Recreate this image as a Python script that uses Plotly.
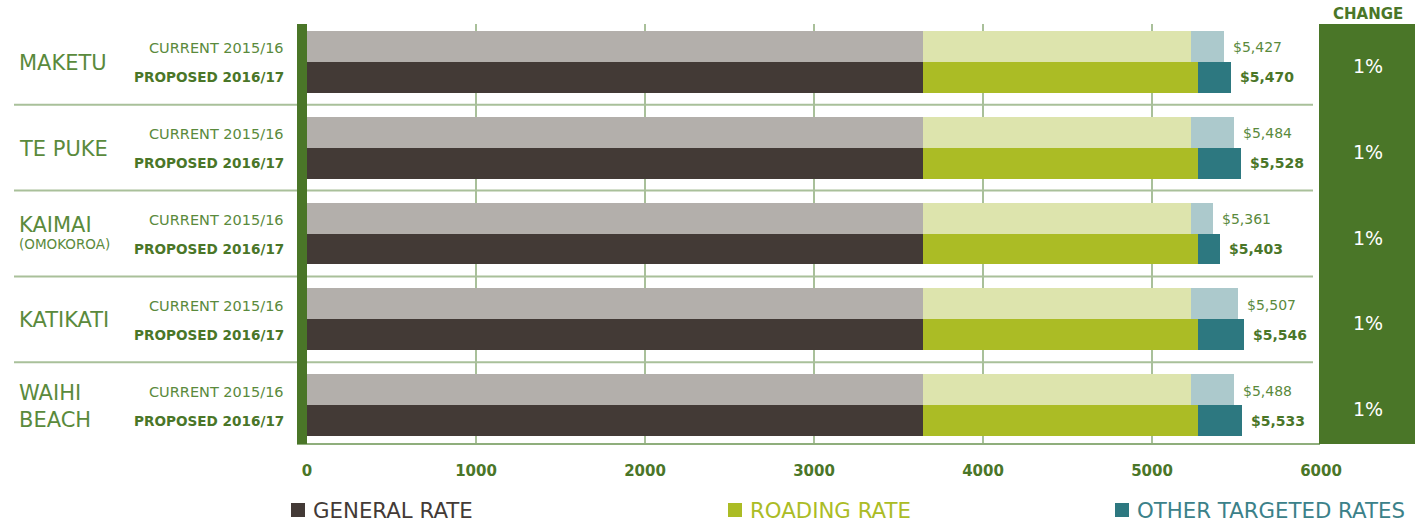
import plotly.graph_objects as go

towns = ["MAKETU", "TE PUKE", "KAIMAI", "KATIKATI", "WAIHI<br>BEACH"]
town_sub = ["", "", "(OMOKOROA)", "", ""]
period_current = "CURRENT 2015/16"
period_proposed = "PROPOSED 2016/17"

general_current = [3645, 3645, 3645, 3645, 3645]
general_proposed = [3645, 3645, 3645, 3645, 3645]
roading_current = [1586, 1586, 1586, 1586, 1586]
roading_proposed = [1627, 1627, 1625, 1627, 1629]
total_current = [5427, 5484, 5361, 5507, 5488]
total_proposed = [5470, 5528, 5403, 5546, 5533]
other_current = [t - g - r for t, g, r in zip(total_current, general_current, roading_current)]
other_proposed = [t - g - r for t, g, r in zip(total_proposed, general_proposed, roading_proposed)]
change = ["1%", "1%", "1%", "1%", "1%"]
x_ticks = [0, 1000, 2000, 3000, 4000, 5000, 6000]
legend_names = ["GENERAL RATE", "ROADING RATE", "OTHER TARGETED RATES"]

FONT = "DejaVu Sans"
DARK_GREEN = "#4a7628"
TEXT_GREEN = "#5a8a3c"
GRID = "#a9c09a"

col_cur = ["#b3afab", "#dde4ad", "#acc9cc"]
col_pro = ["#433a36", "#abbc25", "#2d7880"]
legend_text_col = ["#433a36", "#abbc25", "#3b8189"]

PITCH = 2.768
n = len(towns)
y_cur = [i * PITCH for i in range(n)]
y_pro = [i * PITCH + 1 for i in range(n)]

fig = go.Figure()
series_cur = [general_current, roading_current, other_current]
series_pro = [general_proposed, roading_proposed, other_proposed]
for k in range(3):
    fig.add_trace(go.Bar(x=series_cur[k], y=y_cur, orientation="h", width=1,
                         marker=dict(color=col_cur[k], line=dict(width=0)),
                         showlegend=False, hoverinfo="skip"))
    fig.add_trace(go.Bar(x=series_pro[k], y=y_pro, orientation="h", width=1,
                         marker=dict(color=col_pro[k], line=dict(width=0)),
                         showlegend=False, hoverinfo="skip"))

W, H = 1421, 523
L, R, T, B = 307, 100, 24, 79
pw = W - L - R
ph = H - T - B

def px_to_paper_x(px):
    return (px - L) / pw

def px_to_paper_y(py):
    return 1 - (py - T) / ph

shapes = []
annotations = []

# separators
for i in range(n - 1):
    ysep = i * PITCH + 0.5 + PITCH / 2
    shapes.append(dict(type="line", xref="paper", yref="y",
                       x0=px_to_paper_x(14), x1=px_to_paper_x(1313), y0=ysep, y1=ysep,
                       line=dict(color=GRID, width=2)))
# bottom line
shapes.append(dict(type="line", xref="paper", yref="paper",
                   x0=px_to_paper_x(297), x1=px_to_paper_x(1320), y0=0, y1=0,
                   line=dict(color="#8fae7c", width=2)))
# left thick bar
shapes.append(dict(type="rect", xref="paper", yref="paper",
                   x0=px_to_paper_x(297), x1=0, y0=0, y1=1,
                   fillcolor=DARK_GREEN, line=dict(width=0)))
# change column
shapes.append(dict(type="rect", xref="paper", yref="paper",
                   x0=px_to_paper_x(1319), x1=px_to_paper_x(1415), y0=0, y1=1,
                   fillcolor=DARK_GREEN, line=dict(width=0)))

annotations.append(dict(text="<b>CHANGE</b>", xref="paper", yref="paper",
                        x=px_to_paper_x(1368), y=px_to_paper_y(14), showarrow=False,
                        font=dict(family=FONT, size=15, color=DARK_GREEN),
                        xanchor="center", yanchor="middle"))

for i in range(n):
    yc = (y_cur[i] + y_pro[i]) / 2
    annotations.append(dict(text=towns[i], xref="paper", yref="y",
                            x=px_to_paper_x(17), y=yc, showarrow=False,
                            xanchor="left", yanchor="middle", align="left",
                            yshift=(9 if town_sub[i] else -1),
                            font=dict(family=FONT, size=21, color=TEXT_GREEN)))
    if town_sub[i]:
        annotations.append(dict(text=town_sub[i], xref="paper", yref="y",
                                x=px_to_paper_x(17), y=yc, showarrow=False,
                                xanchor="left", yanchor="middle", yshift=-10,
                                font=dict(family=FONT, size=13.5, color=TEXT_GREEN)))
    annotations.append(dict(text=period_current, xref="paper", yref="y",
                            x=px_to_paper_x(286), y=y_cur[i], showarrow=False,
                            xanchor="right", yanchor="middle", yshift=-2,
                            font=dict(family=FONT, size=14.5, color=TEXT_GREEN)))
    annotations.append(dict(text="<b>" + period_proposed + "</b>", xref="paper", yref="y",
                            x=px_to_paper_x(286), y=y_pro[i], showarrow=False,
                            xanchor="right", yanchor="middle",
                            font=dict(family=FONT, size=13.6, color=DARK_GREEN)))
    annotations.append(dict(text="${:,}".format(total_current[i]), xref="x", yref="y",
                            x=total_current[i], y=y_cur[i], showarrow=False,
                            xanchor="left", yanchor="middle", xshift=7, yshift=-1,
                            font=dict(family=FONT, size=14, color=TEXT_GREEN)))
    annotations.append(dict(text="<b>${:,}</b>".format(total_proposed[i]), xref="x", yref="y",
                            x=total_proposed[i], y=y_pro[i], showarrow=False,
                            xanchor="left", yanchor="middle", xshift=7,
                            font=dict(family=FONT, size=14, color=DARK_GREEN)))
    annotations.append(dict(text=change[i], xref="paper", yref="y",
                            x=px_to_paper_x(1368), y=yc, showarrow=False,
                            xanchor="center", yanchor="middle", yshift=-4,
                            font=dict(family=FONT, size=19, color="white")))

# legend
legend_sq_px = [291, 728, 1115]
for k in range(3):
    x0 = legend_sq_px[k]
    shapes.append(dict(type="rect", xref="paper", yref="paper",
                       x0=px_to_paper_x(x0), x1=px_to_paper_x(x0 + 14),
                       y0=px_to_paper_y(517), y1=px_to_paper_y(503),
                       fillcolor=col_pro[k], line=dict(width=0)))
    annotations.append(dict(text=legend_names[k], xref="paper", yref="paper",
                            x=px_to_paper_x(x0 + 20), y=px_to_paper_y(510), showarrow=False,
                            xanchor="left", yanchor="middle",
                            font=dict(family=FONT, size=21.3, color=legend_text_col[k])))

fig.update_layout(
    width=W, height=H,
    margin=dict(l=L, r=R, t=T, b=B, pad=0),
    plot_bgcolor="white", paper_bgcolor="white",
    barmode="stack", bargap=0,
    showlegend=False,
    shapes=shapes, annotations=annotations,
    xaxis=dict(range=[0, 6000], tickvals=x_ticks, ticktext=["<b>%d</b>" % v for v in x_ticks],
               showgrid=True, gridcolor=GRID, gridwidth=2, zeroline=False,
               ticks="", ticklabelstandoff=16,
               tickfont=dict(family=FONT, size=15, color=DARK_GREEN), showline=False),
    yaxis=dict(range=[12.83, -0.726], showticklabels=False, showgrid=False,
               zeroline=False, showline=False, ticks=""),
)

fig.write_html("out.html")
